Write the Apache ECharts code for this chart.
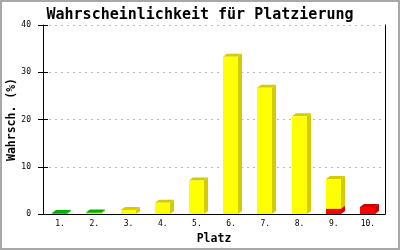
<!DOCTYPE html>
<html><head><meta charset="utf-8">
<script src="https://cdn.jsdelivr.net/npm/echarts@6/dist/echarts.min.js"></script>
<style>html,body{margin:0;padding:0;background:#fff}#c{width:400px;height:250px}</style>
</head><body><div id="c"></div>
<script>
const categories = ['1.','2.','3.','4.','5.','6.','7.','8.','9.','10.'];
const redValues    = [0, 0, 0, 0, 0, 0, 0, 0, 1.1, 1.5];
const yellowValues = [0, 0.2, 0.85, 2.4, 7.1, 33.3, 26.7, 20.7, 6.3, 0];
const greenValues  = [0.2, 0.1, 0, 0, 0, 0, 0, 0, 0, 0];
const yTicks = [0, 10, 20, 30, 40];

const MONO = '"DejaVu Sans Mono", "Liberation Mono", monospace';
const segColors = [
  {front:'#ff0000', dark:'#cc0000'},
  {front:'#ffff00', dark:'#d4cc00'},
  {front:'#11cc11', dark:'#00b000'}
];
const data = categories.map((c, i) => [i, redValues[i], yellowValues[i], greenValues[i]]);

function renderItem(params, api) {
  const i = api.value(0);
  const vals = [api.value(1), api.value(2), api.value(3)];
  const w = 15, dx = 4, dy = 3;
  const children = [];
  let base = 0;
  for (let s = 0; s < 3; s++) {
    const v = vals[s];
    if (!(v > 0)) continue;
    const p0 = api.coord([i, base]);
    const p1 = api.coord([i, base + v]);
    const x0 = Math.floor(p0[0] - w / 2), x1 = x0 + w;
    const yb = p0[1], yt = p1[1];
    const col = segColors[s];
    children.push({type:'polygon', shape:{points:[[x1,yb],[x1,yt],[x1+dx,yt-dy],[x1+dx,yb-dy]]}, style:{fill:col.dark}});
    children.push({type:'polygon', shape:{points:[[x0,yt],[x1,yt],[x1+dx,yt-dy],[x0+dx,yt-dy]]}, style:{fill:col.dark}});
    children.push({type:'rect', shape:{x:x0, y:yt, width:w, height:yb-yt}, style:{fill:col.front}});
    base += v;
  }
  return {type:'group', children};
}

const chart = echarts.init(document.getElementById('c'), null, {renderer:'canvas'});
chart.setOption({
  animation:false,
  backgroundColor:'#fff',
  title:{text:'Wahrscheinlichkeit für Platzierung', left:'center', top:3,
    textStyle:{fontFamily:MONO, fontWeight:'bold', fontSize:15, color:'#000'}},
  graphic:[{type:'rect', shape:{x:1, y:1, width:398, height:248}, style:{fill:'none', stroke:'#a8a8a8', lineWidth:2}, silent:true}],
  grid:{left:43, right:15, top:25, bottom:36, containLabel:false, outerBoundsMode:'none'},
  xAxis:{type:'category', data:categories, boundaryGap:true,
    axisLine:{lineStyle:{color:'#000', width:1}}, axisTick:{show:false},
    axisLabel:{fontFamily:MONO, fontSize:8, color:'#000', margin:6},
    name:'Platz', nameLocation:'middle', nameGap:19, nameMoveOverlap:false,
    nameTextStyle:{fontFamily:MONO, fontWeight:'bold', fontSize:11.5, color:'#000'}},
  yAxis:[
    {type:'value', min:yTicks[0], max:yTicks[yTicks.length-1], interval:10, position:'left',
     axisLine:{show:true, lineStyle:{color:'#000', width:1}},
     axisTick:{show:true, length:5, lineStyle:{color:'#000'}},
     axisLabel:{fontFamily:MONO, fontSize:8, color:'#000', margin:12},
     splitLine:{show:true, lineStyle:{color:'#bbbbbb', type:[2,4], width:1}},
     name:'Wahrsch. (%)', nameLocation:'middle', nameGap:25, nameMoveOverlap:false,
     nameTextStyle:{fontFamily:MONO, fontWeight:'bold', fontSize:11.5, color:'#000'}},
    {type:'value', min:0, max:40, interval:10, position:'right',
     axisLine:{show:true, lineStyle:{color:'#000', width:1}}, axisTick:{show:false},
     axisLabel:{show:false}, splitLine:{show:false}},
    {type:'value', min:0, max:40, interval:10, position:'left',
     axisLine:{show:false}, axisTick:{show:true, inside:true, length:5, lineStyle:{color:'#000'}},
     axisLabel:{show:false}, splitLine:{show:false}}
  ],
  series:[{type:'custom', renderItem, data, encode:{x:0, y:[1,2,3]}, xAxisIndex:0, yAxisIndex:0, clip:false}]
});
</script></body></html>
